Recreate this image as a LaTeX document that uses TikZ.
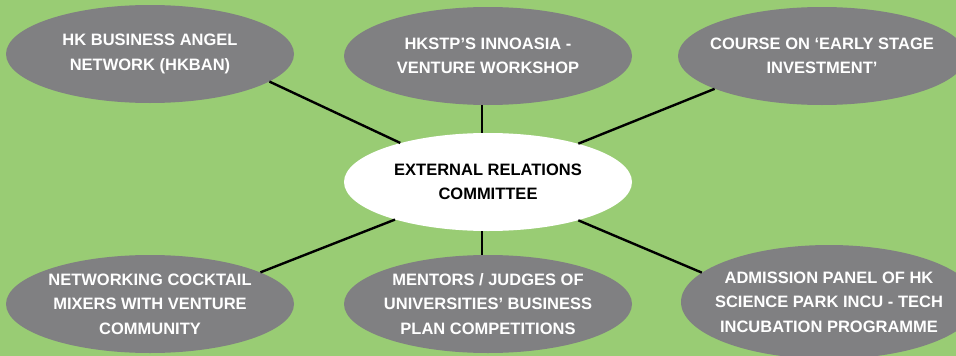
\documentclass[tikz,border=0pt]{standalone}
\usepackage{fontspec}
\setmainfont{Liberation Sans}
\usetikzlibrary{shapes.geometric}

\definecolor{bggreen}{RGB}{153,204,116}
\definecolor{bubblegray}{RGB}{128,128,130}

\newcommand{\ellw}{288pt}
\newcommand{\ellh}{98pt}

\begin{document}
\begin{tikzpicture}[x=1pt, y=-1pt, font=\bfseries\fontsize{16.5}{24.5}\selectfont,
    bubble/.style={ellipse, fill=bubblegray, minimum width=\ellw, minimum height=\ellh, inner sep=0pt},
    bubbletext/.style={text=white, align=center},
    link/.style={line width=2.4pt}]
    % Background.
    \useasboundingbox (0,0) rectangle (956,356);
    \fill [bggreen] (0,0) rectangle (956,356);

    % Centre.
    \node [bubble, fill=white, label={[align=center]center:EXTERNAL RELATIONS\\COMMITTEE}] (committee) at (488,182) {};

    % Top row.
    \node [bubble, label={[bubbletext]center:HK BUSINESS ANGEL\\NETWORK (HKBAN)}] (hkban) at (150,54) {};
    \node [bubble, label={[bubbletext]center:HKSTP’S INNOASIA -\\VENTURE WORKSHOP}] (innoasia) at (488,56) {};
    \node [bubble, label={[bubbletext]center:COURSE ON ‘EARLY STAGE\\INVESTMENT’}] (course) at (822,56) {};

    % Bottom row.
    \node [bubble, label={[bubbletext]center:NETWORKING COCKTAIL\\MIXERS WITH VENTURE\\COMMUNITY}] (cocktail) at (150,304) {};
    \node [bubble, label={[bubbletext]center:MENTORS / JUDGES OF\\UNIVERSITIES’ BUSINESS\\PLAN COMPETITIONS}] (mentors) at (488,304) {};
    \node [bubble, minimum width=296pt, minimum height=114pt, label={[bubbletext]center:ADMISSION PANEL OF HK\\SCIENCE PARK INCU - TECH\\INCUBATION PROGRAMME}] (panel) at (829,302) {};

    % Links to the committee.
    \draw [link] (hkban.-13.9)    -- (committee.156.1);
    \draw [link] (innoasia.-97)   -- (committee.97);
    \draw [link] (course.-163.6)  -- (committee.23.2);
    \draw [link] (cocktail.16.6)  -- (committee.-158.7);
    \draw [link] (mentors.97)     -- (committee.-97);
    \draw [link] (panel.167.4)    -- (committee.-23.7);
\end{tikzpicture}
\end{document}
